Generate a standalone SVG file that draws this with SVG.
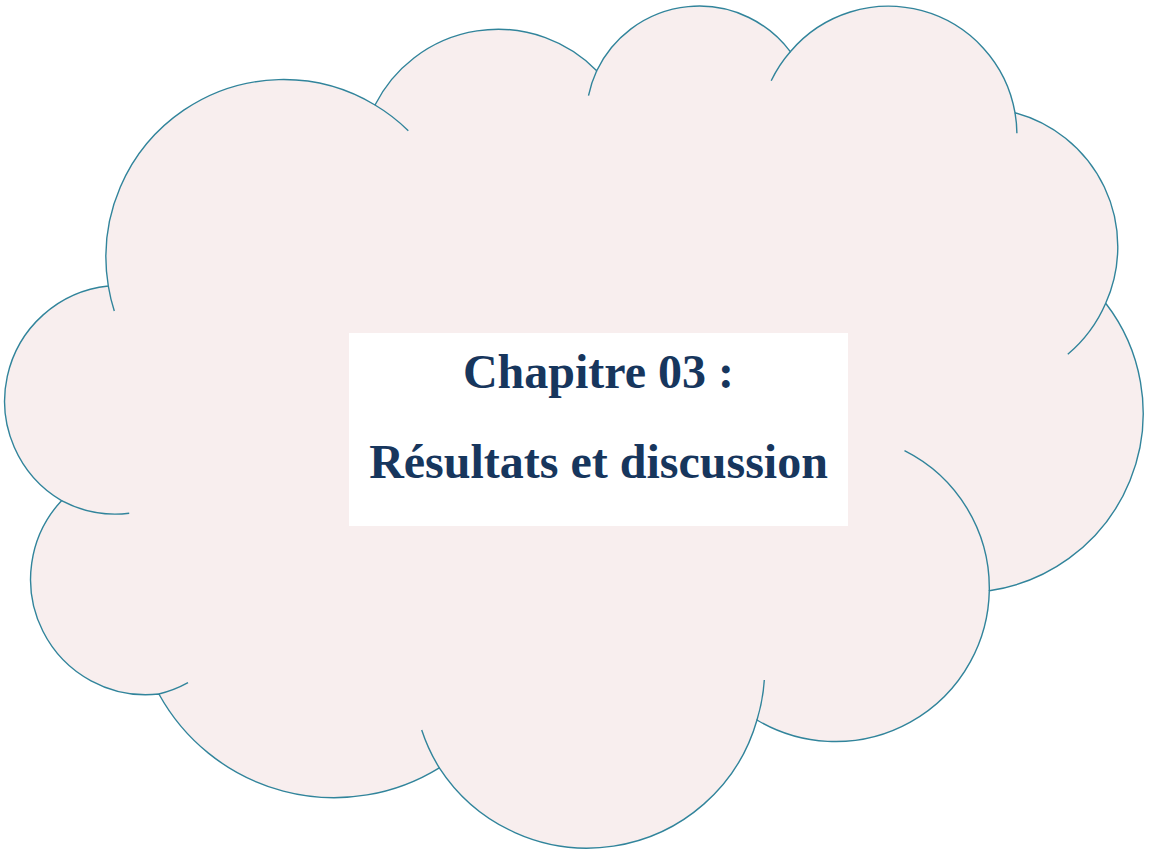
<svg xmlns="http://www.w3.org/2000/svg" width="1149" height="851" viewBox="0 0 1149 851">
  <style>
    .cloud { fill: #F8EEEE; stroke: #31849B; stroke-width: 1.4; stroke-linejoin: miter; }
    .tick { fill: none; stroke: #31849B; stroke-width: 1.4; }
    .title { font-family: "Liberation Serif", "Times New Roman", serif; font-weight: bold; font-size: 48px; fill: #17365D; text-anchor: middle; }
  </style>
  <rect x="0" y="0" width="1149" height="851" fill="#FFFFFF"/>
  <g id="cloud">
    <path class="cloud" d="M108.3,286
      A177.5,177.5 0 0 1 375,105
      A138,138 0 0 1 596.7,70.7
      A113.7,113.7 0 0 1 790.3,51.7
      A128.5,128.5 0 0 1 1015,112.7
      A138.7,138.7 0 0 1 1105.7,303.3
      A179.5,179.5 0 0 1 989.3,590.7
      A153.8,153.8 0 0 1 757,720
      A176.5,176.5 0 0 1 439.3,767.8
      A200,200 0 0 1 158.9,694
      A115.4,115.4 0 0 1 61.5,500.7
      A115.7,115.7 0 0 1 108.3,286 Z"/>
    <path class="tick" d="M61.5,500.7 A115.7,115.7 0 0 0 129.2,513.3"/>
    <path class="tick" d="M158.9,694 A115.4,115.4 0 0 0 188,682.7"/>
    <path class="tick" d="M439.3,767.8 A176.5,176.5 0 0 1 421.7,730"/>
    <path class="tick" d="M757,720 A176.5,176.5 0 0 0 764.3,680"/>
    <path class="tick" d="M989.3,590.7 A153.8,153.8 0 0 0 904.5,450.7"/>
    <path class="tick" d="M1105.7,303.3 A138.7,138.7 0 0 1 1067.8,354.3"/>
    <path class="tick" d="M1015,112.7 A128.5,128.5 0 0 1 1016.9,133.3"/>
    <path class="tick" d="M790.3,51.7 A128.5,128.5 0 0 0 771.2,80.7"/>
    <path class="tick" d="M596.7,70.7 A113.7,113.7 0 0 0 588.5,95.7"/>
    <path class="tick" d="M375,105 A177.5,177.5 0 0 1 408.3,130.7"/>
    <path class="tick" d="M108.3,286 A177.5,177.5 0 0 0 114.3,311"/>
  </g>
  <g id="title-box">
    <rect x="349" y="333" width="499" height="193" fill="#FFFFFF"/>
    <text class="title" x="598.5" y="388.3">Chapitre 03 :</text>
    <text class="title" x="598.5" y="478.3">Résultats et discussion</text>
  </g>
  <g id="connectors"></g>
</svg>
